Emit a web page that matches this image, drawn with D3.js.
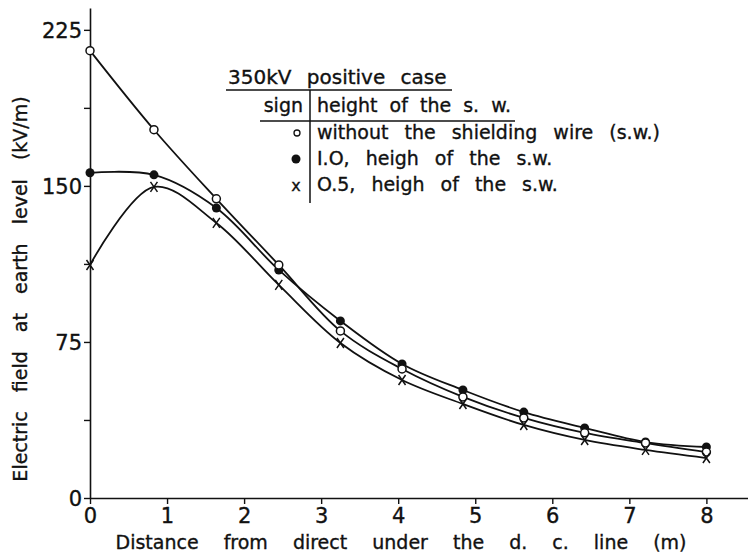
<!DOCTYPE html>
<html><head><meta charset="utf-8">
<script src="https://cdn.jsdelivr.net/npm/d3@7"></script>
<style>
body{margin:0;background:#fff;}
text{font-family:"DejaVu Sans",sans-serif;fill:#111;stroke:#111;stroke-width:0.35px;}
</style></head>
<body><svg id="c" width="748" height="556"></svg>
<script>
const distance = [0, 0.83, 1.64, 2.45, 3.25, 4.05, 4.84, 5.63, 6.42, 7.21, 8.0];
const withoutSW = [215, 177, 143.8, 112, 80.3, 62, 48.6, 38.5, 31.3, 26.4, 22.1];
const sw10 = [156.3, 155.3, 139.4, 109.6, 85.1, 64.4, 51.9, 41.3, 33.7, 26.9, 24.5];
const sw05 = [112, 149.5, 132.2, 102.4, 74.5, 56.7, 45.2, 35.1, 27.9, 23.1, 19.2];
const xTicks = [0,1,2,3,4,5,6,7,8];
const yTicks = [0,75,150,225];
const yMinor = [37.5,112.5,187.5];
const legendTitle = "350kV  positive case";
const legendHeadSign = "sign";
const legendHeadHeight = "height of the s. w.";
const legendLabels = ["without the shielding wire (s.w.)", "I.O, heigh of the s.w.", "O.5, heigh of the s.w."];
const xTitle = "Distance from direct under the d. c. line (m)";
const yTitle = "Electric field at earth level (kV/m)";

const svg = d3.select("#c");
const x = d3.scaleLinear().domain([0, 8.54]).range([90, 748]);
const y = d3.scaleLinear().domain([0, 235.5]).range([498, 8]);

// axes
const xa = svg.append("g").attr("transform","translate(0,498)")
  .call(d3.axisBottom(x).tickValues(xTicks).tickSize(6).tickSizeOuter(0).tickPadding(4));
const ya = svg.append("g").attr("transform","translate(90,0)")
  .call(d3.axisLeft(y).tickValues(yTicks).tickSize(6).tickSizeOuter(0).tickPadding(2));
svg.append("g").attr("transform","translate(90,0)")
  .call(d3.axisLeft(y).tickValues(yMinor).tickSize(6).tickFormat("").tickSizeOuter(0))
  .select(".domain").remove();
svg.selectAll(".domain").attr("stroke","#111").attr("stroke-width",1.6);
svg.selectAll(".tick line").attr("stroke","#111").attr("stroke-width",1.4);
xa.selectAll("text").attr("font-size",21).attr("fill","#111").attr("font-family","DejaVu Sans");
ya.selectAll("text").attr("font-size",21).attr("fill","#111").attr("font-family","DejaVu Sans").attr("dy","0.36em");

// titles
svg.append("text").attr("x",401).attr("y",549).attr("text-anchor","middle")
  .attr("font-size",19).style("word-spacing","19px").text(xTitle);
svg.append("text").attr("transform","translate(27,289) rotate(-90)").attr("text-anchor","middle")
  .attr("font-size",19).style("word-spacing","13px").text(yTitle);

// lines
const line = d3.line().x((d,i)=>x(distance[i])).y(d=>y(d)).curve(d3.curveCatmullRom.alpha(0.5));
[withoutSW, sw10, sw05].forEach(s=>{
  svg.append("path").attr("d",line(s)).attr("fill","none").attr("stroke","#111").attr("stroke-width",1.8);
});

// markers
svg.append("g").selectAll("circle").data(sw10).join("circle")
  .attr("cx",(d,i)=>x(distance[i])).attr("cy",d=>y(d)).attr("r",4.5).attr("fill","#111");
svg.append("g").selectAll("circle").data(withoutSW).join("circle")
  .attr("cx",(d,i)=>x(distance[i])).attr("cy",d=>y(d)).attr("r",4).attr("fill","#fff")
  .attr("stroke","#111").attr("stroke-width",1.5);
svg.append("g").selectAll("path").data(sw05).join("path")
  .attr("d",(d,i)=>{const cx=x(distance[i]),cy=y(d);return `M${cx-3.5},${cy-5}L${cx+3.5},${cy+5}M${cx+3.5},${cy-5}L${cx-3.5},${cy+5}`;})
  .attr("stroke","#111").attr("stroke-width",1.5).attr("fill","none");

// legend
const lg = svg.append("g");
lg.append("text").attr("x",228).attr("y",84).attr("font-size",20).style("word-spacing","9px").text(legendTitle);
lg.append("line").attr("x1",226).attr("x2",452).attr("y1",90).attr("y2",90).attr("stroke","#111").attr("stroke-width",1.5);
lg.append("text").attr("x",303).attr("y",112).attr("text-anchor","end").attr("font-size",19).text(legendHeadSign);
lg.append("text").attr("x",317).attr("y",112).attr("font-size",19).style("word-spacing","6px").text(legendHeadHeight);
lg.append("line").attr("x1",260).attr("x2",515).attr("y1",121).attr("y2",121).attr("stroke","#111").attr("stroke-width",1.3);
lg.append("line").attr("x1",310).attr("x2",310).attr("y1",90).attr("y2",203).attr("stroke","#111").attr("stroke-width",1.5);
const rowY = [139, 165, 191];
legendLabels.forEach((t,i)=>{
  lg.append("text").attr("x",317).attr("y",rowY[i]).attr("font-size",19).style("word-spacing","10px").text(t);
});
lg.append("circle").attr("cx",297).attr("cy",rowY[0]-6).attr("r",3).attr("fill","#fff").attr("stroke","#111").attr("stroke-width",1.3);
lg.append("circle").attr("cx",296).attr("cy",rowY[1]-6).attr("r",4.5).attr("fill","#111");
lg.append("text").attr("x",296).attr("y",rowY[2]).attr("text-anchor","middle").attr("font-size",16).text("x");
</script></body></html>
